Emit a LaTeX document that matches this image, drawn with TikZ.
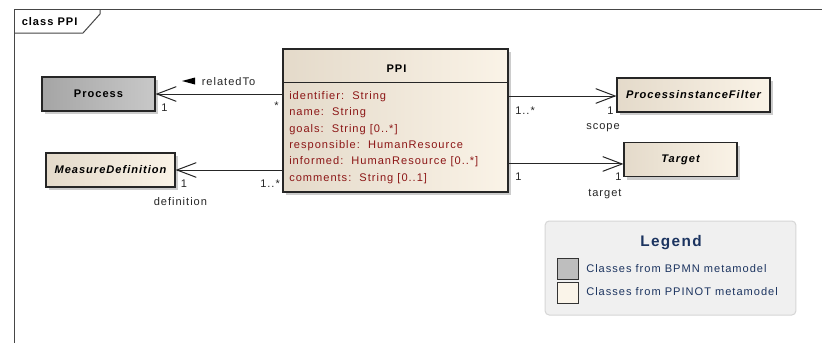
\documentclass[tikz,border=0pt]{standalone}
\usepackage{fontspec}
\setmainfont{Liberation Sans}[LetterSpace=9]
\usetikzlibrary{arrows.meta,shadows}
\definecolor{attr}{RGB}{140,22,22}
\definecolor{navy}{RGB}{28,52,96}
\definecolor{framec}{RGB}{70,70,70}
\definecolor{beigeL}{RGB}{228,218,202}
\definecolor{beigeR}{RGB}{250,243,231}
\definecolor{grayL}{RGB}{165,165,165}
\definecolor{grayR}{RGB}{200,200,200}
\definecolor{legbg}{RGB}{240,240,240}
\definecolor{legbd}{RGB}{214,214,214}
\tikzset{
  cls/.style={draw=black!85, line width=0.8pt, left color=beigeL, right color=beigeR,
    drop shadow={shadow xshift=2.6pt, shadow yshift=-2.6pt, fill=black!20, opacity=1},
    inner sep=0pt, font=\fontsize{8.3}{10}\selectfont\bfseries\itshape},
  bpmn/.style={cls, left color=grayL, right color=grayR, font=\fontsize{8.3}{10}\selectfont\bfseries},
  attrtxt/.style={anchor=base west, inner sep=0pt, text=attr, font=\fontsize{8.3}{10}\selectfont},
  lbl/.style={inner sep=0pt, anchor=base west, text=black!85, font=\fontsize{8.3}{10}\selectfont},
  assoc/.style={draw=black!85, line width=0.75pt, -{Straight Barb[length=14.5pt, width=11pt, line width=0.75pt]}},
  legtxt/.style={anchor=base west, inner sep=0pt, text=navy, font=\fontsize{8.3}{10}\selectfont},
  legsq/.style={draw=black!80, line width=0.75pt, minimum width=15.75pt, minimum height=15.75pt, inner sep=0pt}
}
\begin{document}
\begin{tikzpicture}[x=0.75pt,y=-0.75pt]
\useasboundingbox (0,0) rectangle (822,343);
\fill[white] (0,0) rectangle (822,343);
% frame
\draw[framec, line width=0.75pt] (14,345) -- (14,9) -- (825,9);
\draw[framec, line width=0.75pt] (14,33) -- (83,33) -- (100,14) -- (100,9);
\node[inner sep=0pt, anchor=base west, font=\fontsize{8.3}{10}\selectfont\bfseries] (title) at (21.5,25) {class PPI};

% classes
\node[bpmn, minimum width=84.75pt, minimum height=25.5pt] (process) at (98.5,94) {Process};
\node[cls, minimum width=96.75pt, minimum height=25.5pt] (measure) at (110.5,170) {MeasureDefinition};
\node[cls, minimum width=114.75pt, minimum height=25.5pt] (pif) at (693.5,95) {ProcessinstanceFilter};
\node[cls, minimum width=84.75pt, minimum height=25.5pt] (target) at (680.5,159.7) {Target};
\node[cls, minimum width=168.75pt, minimum height=107.25pt] (ppi) at (395.5,120.5) {};
\draw[black!85, line width=0.8pt] (ppi.north west) ++(0,34) coordinate (hdl) -- ++(225,0) coordinate (hdr);
\node[inner sep=0pt, anchor=base, font=\fontsize{8.3}{10}\selectfont\bfseries] (ppititle) at (396.5,72.3) {PPI};
\node[attrtxt] (a1) at (289,99.5) {identifier:\ \ String};
\node[attrtxt] (a2) at (289,115.8) {name:\ \ String};
\node[attrtxt] (a3) at (289,132.1) {goals:\ \ String [0..*]};
\node[attrtxt] (a4) at (289,148.4) {responsible:\ \ HumanResource};
\node[attrtxt] (a5) at (289,164.7) {informed:\ \ HumanResource [0..*]};
\node[attrtxt] (a6) at (289,181) {comments:\ \ String [0..1]};

% associations
\draw[assoc] (process.east -| ppi.west) -- (process.east);
\draw[assoc] (measure.east -| ppi.west) -- (measure.east);
\draw[assoc] ([yshift=-0.75pt]pif.west -| ppi.east) -- ([yshift=-0.75pt]pif.west);
\draw[assoc] ([yshift=-3.2pt]target.west -| ppi.east) -- ([yshift=-3.2pt]target.west);

% labels
\fill[black] (182,81) -- (195,77.5) -- (195,84.5) -- cycle;
\node[lbl] (relto) at (201.5,85) {relatedTo};
\node[lbl] (m1) at (161,111) {1};
\node[lbl, anchor=center] (m2) at (276.5,105.5) {*};
\node[lbl] (m3) at (180.5,187.5) {1};
\node[lbl] (m4) at (260,187.5) {1..*};
\node[lbl] (m5) at (153.5,205) {definition};
\node[lbl] (m6) at (515,114) {1..*};
\node[lbl] (m7) at (607,114) {1};
\node[lbl] (m8) at (586,129) {scope};
\node[lbl] (m9) at (515,180) {1};
\node[lbl] (m10) at (615,180) {1};
\node[lbl] (m11) at (588,196) {target};

% legend
\node[draw=legbd, fill=legbg, line width=0.75pt, rounded corners=3pt, minimum width=188pt, minimum height=70.5pt, inner sep=0pt] (legend) at (670.5,268) {};
\node[inner sep=0pt, anchor=base, text=navy, font=\fontsize{11.5}{13}\selectfont\bfseries] (legtitle) at (671,246) {Legend};
\node[legsq, fill=grayR!95!black] (sq1) at (567.5,268.5) {};
\node[legsq, fill=beigeR!90!white] (sq2) at (567.5,292.5) {};
\node[legtxt] (lt1) at (586,272.5) {Classes from BPMN metamodel};
\node[legtxt] (lt2) at (586,295.5) {Classes from PPINOT metamodel};
\end{tikzpicture}
\end{document}
